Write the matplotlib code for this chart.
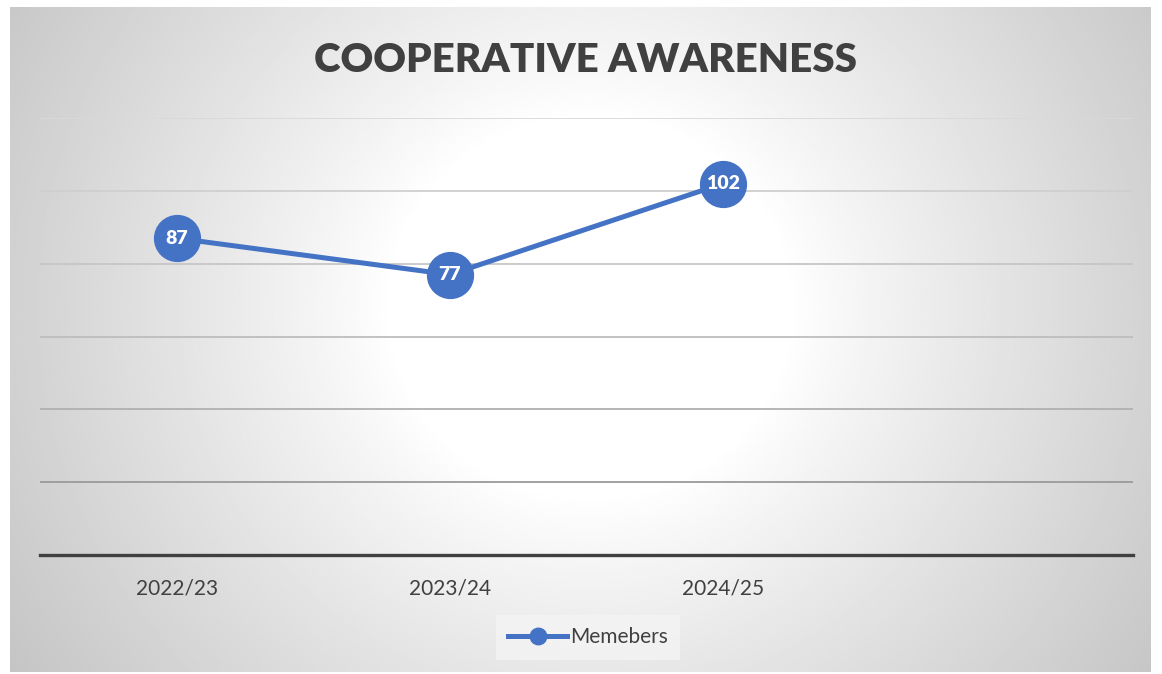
import matplotlib.pyplot as plt
import numpy as np

years = ["2022/23", "2023/24", "2024/25", ""]
members = [87, 77, 102]
y_ticks = [20, 40, 60, 80, 100, 120]
grid_colors = ["#9a9a9a", "#b0b0b0", "#bdbdbd", "#c6c6c6", "#cfcfcf", "#d9d9d9"]

blue = "#4472C4"
dark = "#404040"

W, H = 1162, 674
fig = plt.figure(figsize=(W / 100, H / 100), dpi=100)
fig.patch.set_facecolor("white")

# radial grey-to-white background of the chart area
bg = fig.add_axes([10 / W, 2 / H, 1141 / W, 665 / H])
bg.set_axis_off()
gx, gy = np.meshgrid(np.linspace(0, 1141, 400), np.linspace(0, 665, 240))
r = np.sqrt((gx - 580) ** 2 + ((gy - 300) * 1.05) ** 2)
t = np.clip((r - 200) / 500, 0, 1)
shade = 1.0 - 0.23 * t ** 0.9
bg.imshow(shade, cmap="gray", vmin=0, vmax=1, aspect="auto",
          extent=[0, 1, 0, 1], interpolation="bilinear")
bg.set_xlim(0, 1)
bg.set_ylim(0, 1)

ax = fig.add_axes([40 / W, 1 - 555 / H, 1093 / W, 437 / H])
ax.patch.set_alpha(0)
ax.set_xlim(-0.5, 3.5)
ax.set_ylim(0, 120)
for v, c in zip(y_ticks, grid_colors):
    ax.axhline(v, color=c, lw=1.3, zorder=1)
for s in ["top", "right", "left"]:
    ax.spines[s].set_visible(False)
ax.spines["bottom"].set_color(dark)
ax.spines["bottom"].set_linewidth(2.4)
ax.set_yticks([])
ax.set_xticks(range(len(years)))
ax.set_xticklabels(years, fontsize=15, color=dark, family="Lato")
ax.tick_params(axis="x", length=0, pad=17)

x = np.arange(len(members))
ax.plot(x, members, color=blue, lw=3.6, marker="o", markersize=33,
        markerfacecolor=blue, markeredgecolor=blue, zorder=3, label="Memebers",
        clip_on=False)
for xi, v in zip(x, members):
    ax.text(xi, v, str(v), ha="center", va="center", color="white",
            fontsize=14, fontweight="heavy", family="Lato", zorder=4)

fig.text(586 / W, 1 - 60 / H, "COOPERATIVE AWARENESS", ha="center", va="center",
         fontsize=29, fontweight="heavy", color=dark, family="Lato")

leg = fig.legend(loc="center", bbox_to_anchor=(588 / W, 1 - 637 / H),
                 frameon=True, handlelength=2.8, markerscale=0.36,
                 borderpad=0.6, handletextpad=0.15, fancybox=False,
                 prop={"family": "Lato", "size": 15})
leg.get_frame().set_facecolor("#f4f4f4")
leg.get_frame().set_edgecolor("none")
for txt in leg.get_texts():
    txt.set_color(dark)

fig.savefig("out.png", dpi=100)
